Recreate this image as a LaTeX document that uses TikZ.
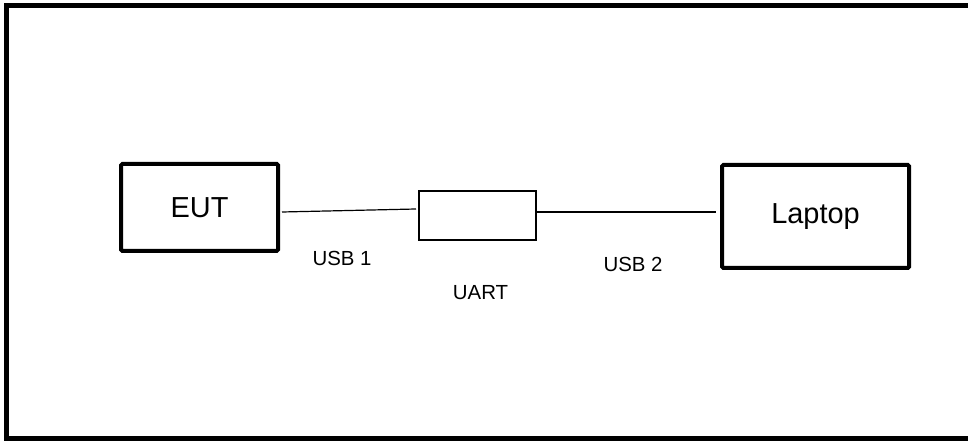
\documentclass[tikz,border=0pt]{standalone}
\usepackage{fontspec}
\setmainfont{Liberation Sans}
\usetikzlibrary{calc}
\begin{document}
\begin{tikzpicture}[x=0.75pt, y=-0.75pt,
    unit/.style={draw, line width=3pt, rounded corners=1pt, inner sep=0pt,
        font=\fontsize{21.7}{26}\selectfont},
    cable/.style={line width=0.9pt},
    tag/.style={inner sep=0pt, font=\fontsize{15.3}{18}\selectfont}]
    \useasboundingbox (0,0) rectangle (968,441);
    \draw[line width=3.75pt] (980,5.5) -- (6.5,5.5) -- (6.5,438.5) -- (980,438.5);
    \node[unit, minimum width=117.75pt, minimum height=65.25pt] (eut) at (199.5,207.5) {EUT};
    \node[draw, line width=1.5pt, inner sep=0pt, minimum width=87.75pt, minimum height=36.75pt] (uart) at (477.5,215.5) {};
    \node[unit, minimum width=140.25pt, minimum height=77.25pt] (laptop) at (815.5,216.5) {Laptop};
    \draw[cable] ($(eut.east)+(2,4.5)$) -- ($(uart.west)+(-2,-6.5)$);
    \draw[cable] ($(uart.east)+(0,-3.5)$) -- ($(laptop.west)+(-4,-4.5)$);
    \node[tag] (usbone) at (342,258) {USB 1};
    \node[tag] (usbtwo) at (633,264) {USB 2};
    \node[tag] (uartlabel) at (480.5,293) {UART};
\end{tikzpicture}
\end{document}
